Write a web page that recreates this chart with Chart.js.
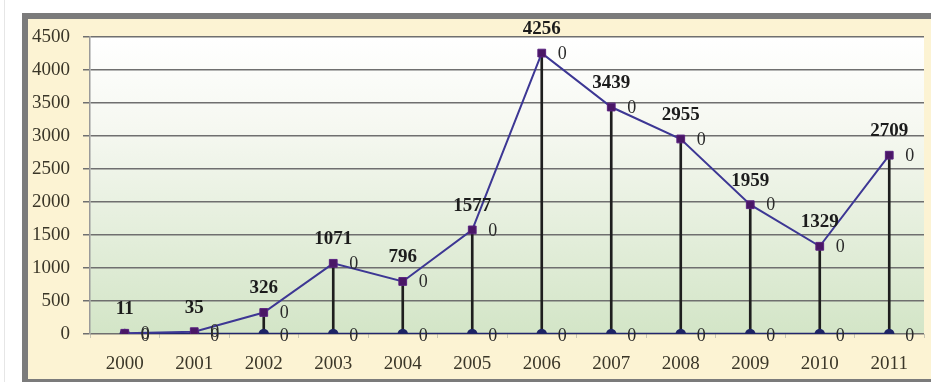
<!DOCTYPE html>
<html>
<head>
<meta charset="utf-8">
<script src="https://cdn.jsdelivr.net/npm/chart.js@4"></script>
<style>
  html, body { margin: 0; padding: 0; background: #fff; }
  body { width: 931px; height: 382px; overflow: hidden; position: relative; }
  #edge { position: absolute; left: 4px; top: 0; width: 1px; height: 382px; background: #e6e6e6; }
  #frame {
    position: absolute; left: 22px; top: 13px;
    width: 903px; height: 360px;
    border-left: 6px solid #7b7b7b; border-top: 6px solid #7b7b7b; border-bottom: 3px solid #7b7b7b;
    background: #fcf3d3;
  }
  #frame canvas { display: block; }
</style>
</head>
<body>
<div id="edge"></div>
<div id="frame"><canvas id="chart" width="903" height="360"></canvas></div>
<script>
const years = ['2000', '2001', '2002', '2003', '2004', '2005', '2006', '2007', '2008', '2009', '2010', '2011'];
const counts = [11, 35, 326, 1071, 796, 1577, 4256, 3439, 2955, 1959, 1329, 2709];
const zeros = [0, 0, 0, 0, 0, 0, 0, 0, 0, 0, 0, 0];

const serif = '"Liberation Serif", "DejaVu Serif", serif';

// light gradient behind the plot, white at the top, pale green at the bottom
const plotBackground = {
    id: 'plotBackground',
    beforeDraw(chart) {
        const { ctx, chartArea: a } = chart;
        const g = ctx.createLinearGradient(0, a.top, 0, a.bottom);
        g.addColorStop(0, '#ffffff');
        g.addColorStop(0.3, '#f6f8f1');
        g.addColorStop(1, '#d3e5c7');
        ctx.save();
        ctx.fillStyle = g;
        ctx.fillRect(a.left, a.top, a.right - a.left, a.bottom - a.top);
        ctx.restore();
    }
};

// value labels above the points and the little "0" labels to their right
const pointLabels = {
    id: 'pointLabels',
    afterDatasetsDraw(chart) {
        const ctx = chart.ctx;
        ctx.save();
        ctx.textBaseline = 'middle';

        const main = chart.getDatasetMeta(2);
        main.data.forEach((pt, i) => {
            ctx.font = 'bold 19px ' + serif;
            ctx.fillStyle = '#1c1c1c';
            ctx.textAlign = 'center';
            ctx.fillText(String(counts[i]), pt.x, pt.y - 24);
            ctx.font = '18px ' + serif;
            ctx.fillStyle = '#2a2a2a';
            ctx.textAlign = 'left';
            ctx.fillText('0', pt.x + 16, pt.y + 1);
        });

        const base = chart.getDatasetMeta(1);
        base.data.forEach(pt => {
            ctx.font = '18px ' + serif;
            ctx.fillStyle = '#2a2a2a';
            ctx.textAlign = 'left';
            ctx.fillText('0', pt.x + 16, pt.y + 2);
        });
        ctx.restore();
    }
};

new Chart(document.getElementById('chart'), {
    type: 'line',
    data: {
        labels: years,
        datasets: [{
            type: 'bar',
            label: 'drop',
            data: counts,
            backgroundColor: '#1e1e1e',
            barThickness: 2,
            order: 3
        }, {
            label: 'base',
            data: zeros,
            borderColor: '#22266e',
            borderWidth: 2.5,
            pointRadius: 4,
            pointBackgroundColor: '#1e2466',
            pointBorderColor: '#1e2466',
            tension: 0,
            order: 2
        }, {
            label: 'count',
            data: counts,
            borderColor: '#3d3794',
            borderWidth: 2,
            pointStyle: 'rect',
            pointRadius: 5.5,
            pointBackgroundColor: '#4a1766',
            pointBorderColor: '#5a2280',
            pointBorderWidth: 1,
            tension: 0,
            order: 1
        }]
    },
    options: {
        responsive: false,
        animation: false,
        layout: { padding: 0 },
        plugins: {
            legend: { display: false },
            tooltip: { enabled: false }
        },
        scales: {
            x: {
                offset: true,
                afterFit: s => {
                    s.height = 45;
                    s.paddingLeft = 0;
                    s.paddingRight = 7;
                },
                grid: { offset: true, drawOnChartArea: false, tickLength: 4, color: '#c9c6b4' },
                border: { display: false },
                ticks: {
                    font: { family: serif, size: 19 },
                    color: '#3a3628',
                    padding: 15
                }
            },
            y: {
                min: 0,
                max: 4500,
                afterFit: s => {
                    s.width = 62;
                    s.paddingTop = 18;
                    s.paddingBottom = 0;
                },
                ticks: {
                    stepSize: 500,
                    callback: v => String(v),
                    font: { family: serif, size: 19 },
                    color: '#3a3628',
                    padding: 13
                },
                grid: { color: '#6f6f6f', lineWidth: 1.5, tickLength: 7 },
                border: { color: '#9a9a9a', width: 1.5 }
            }
        }
    },
    plugins: [plotBackground, pointLabels]
});
</script>
</body>
</html>
